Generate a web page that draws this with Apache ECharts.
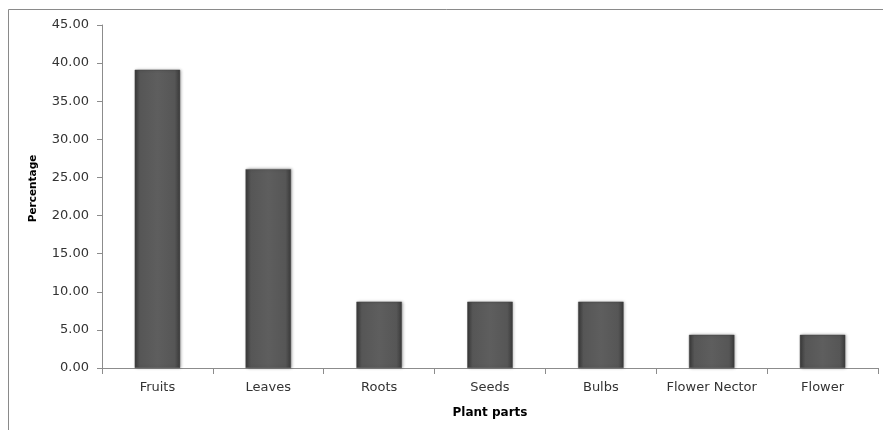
<!DOCTYPE html>
<html>
<head>
<meta charset="utf-8">
<script src="https://cdn.jsdelivr.net/npm/echarts@6/dist/echarts.min.js"></script>
<style>
  html, body { margin: 0; padding: 0; background: #fff; }
  #chart { width: 883px; height: 430px; }
</style>
</head>
<body>
<div id="chart"></div>
<script>
// Share of plant parts used (%)
const categories = ['Fruits', 'Leaves', 'Roots', 'Seeds', 'Bulbs', 'Flower Nector', 'Flower'];
const percentages = [39.13, 26.09, 8.70, 8.70, 8.70, 4.35, 4.35];
const yTicks = { min: 0, max: 45, interval: 5 };

const textColor = '#333333';
const axisColor = '#8c8c8c';
const font = 'DejaVu Sans';

const barFill = new echarts.graphic.LinearGradient(0, 0, 1, 0, [
  { offset: 0, color: '#3a3a3a' },
  { offset: 0.12, color: '#565656' },
  { offset: 0.5, color: '#5e5e5e' },
  { offset: 0.88, color: '#565656' },
  { offset: 1, color: '#3a3a3a' }
]);

const chart = echarts.init(document.getElementById('chart'), null, { renderer: 'canvas' });
chart.setOption({
  animation: false,
  backgroundColor: '#ffffff',
  graphic: [{
    type: 'rect',
    shape: { x: 8.5, y: 9.5, width: 1000, height: 1000 },
    style: { fill: 'none', stroke: '#8a8a8a', lineWidth: 1 },
    silent: true,
    z: -1
  }],
  grid: { left: 102, right: 5, top: 25, bottom: 62 },
  xAxis: {
    type: 'category',
    data: categories,
    name: 'Plant parts',
    nameLocation: 'middle',
    nameGap: 39,
    nameTextStyle: { fontFamily: font, fontSize: 12, fontWeight: 'bold', color: '#000' },
    axisLine: { lineStyle: { color: axisColor, width: 1 } },
    axisTick: { show: true, length: 6, lineStyle: { color: axisColor }, alignWithLabel: false },
    axisLabel: { fontFamily: font, fontSize: 13, color: textColor, margin: 13, interval: 0 },
    splitLine: { show: false }
  },
  yAxis: {
    type: 'value',
    min: yTicks.min,
    max: yTicks.max,
    interval: yTicks.interval,
    name: 'Percentage',
    nameLocation: 'middle',
    nameGap: 63,
    nameRotate: 90,
    nameTextStyle: { fontFamily: font, fontSize: 10.5, fontWeight: 'bold', color: '#000', padding: [0, 0, 0, 16] },
    axisLine: { show: true, lineStyle: { color: axisColor, width: 1 } },
    axisTick: { show: true, length: 5, lineStyle: { color: axisColor } },
    axisLabel: {
      fontFamily: font, fontSize: 13, color: textColor, margin: 13,
      formatter: v => v.toFixed(2)
    },
    splitLine: { show: false }
  },
  series: [{
    type: 'bar',
    data: percentages,
    barWidth: '41%',
    itemStyle: {
      color: barFill,
      borderColor: '#444444',
      borderWidth: 0.5,
      shadowColor: 'rgba(0,0,0,0.35)',
      shadowBlur: 3,
      shadowOffsetX: 1,
      shadowOffsetY: 0
    }
  }]
});
</script>
</body>
</html>
